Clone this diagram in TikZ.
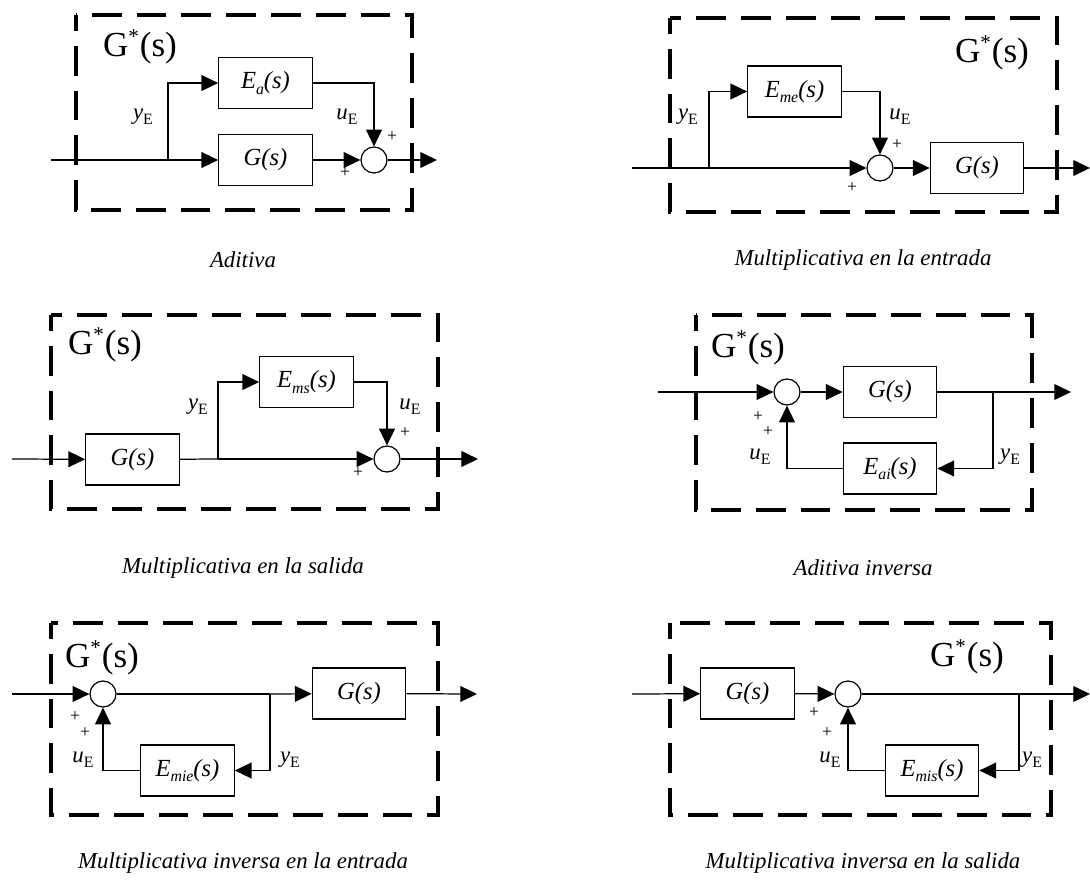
\documentclass[tikz,border=0pt]{standalone}
\usepackage{fontspec}
\setmainfont{Liberation Serif}
\usepackage{tikz}
\usetikzlibrary{arrows.meta}
\newcommand{\sgl}[1]{\textit{#1}\raisebox{-0.45ex}{\fontsize{9}{9}\selectfont E}}
\newcommand{\Eblk}[1]{\textit{E}\raisebox{-0.5ex}{\fontsize{9}{9}\selectfont\textit{#1}}\textit{(s)}}
\newcommand{\Gstar}{G\textsuperscript{\fontsize{12}{12}\selectfont *}(s)}
\tikzset{
  blk/.style={draw=black, line width=0.7pt, minimum width=1.87cm, minimum height=1.02cm, inner sep=0pt, font=\fontsize{14}{16}\selectfont},
  sumc/.style={draw=black, line width=0.7pt, circle, minimum size=0.52cm, inner sep=0pt},
  sarr/.style={-{Triangle[length=9.5pt,width=9pt]}, line width=0.7pt},
  lnk/.style={line width=0.7pt},
  frm/.style={line width=2pt, dash pattern=on 17pt off 8.5pt, dash phase=8pt},
  gstar/.style={font=\fontsize{20}{22}\selectfont, inner sep=0pt},
  lbl/.style={font=\fontsize{13}{15}\selectfont, inner sep=0pt},
  pls/.style={font=\fontsize{10}{11}\selectfont, inner sep=0pt},
  capt/.style={font=\fontsize{13}{15}\selectfont\itshape}
}
\begin{document}
\begin{tikzpicture}[x=0.02cm, y=-0.02cm]
\useasboundingbox (0,0) rectangle (1090,883);
% Aditiva
\draw[frm] (76,15) rectangle (412,210);
\node[gstar] (a-T) at (140,47) {\Gstar};
\coordinate (a-in) at (51,160);
\coordinate (a-br) at (168,160);
\node[blk] (a-E) at (265.5,83) {\Eblk{a}};
\node[blk] (a-G) at (265.5,160) {\textit{G(s)}};
\node[sumc] (a-S) at (374,160) {};
\coordinate (a-out) at (437,160);
\draw[lnk] (a-in) -- (a-br);
\draw[sarr] (a-br) -- (a-G);
\draw[sarr] (a-br) |- (a-E);
\draw[sarr] (a-G) -- (a-S);
\draw[sarr] (a-E) -| (a-S);
\draw[sarr] (a-S) -- (a-out);
\node[lbl] (a-y) at (143,117) {\sgl{y}};
\node[lbl] (a-u) at (347,117) {\sgl{u}};
\node[pls] (a-p1) at (392,137) {+};
\node[pls] (a-p2) at (345,173) {+};
\node[capt] (a-C) at (243,260) {Aditiva};
% Multiplicativa en la entrada
\draw[frm] (670,18) rectangle (1057,212);
\node[gstar] (b-T) at (992,53) {\Gstar};
\coordinate (b-in) at (632,168);
\coordinate (b-br) at (709,168);
\node[blk] (b-E) at (794.5,91.5) {\Eblk{me}};
\node[sumc] (b-S) at (880,168) {};
\node[blk] (b-G) at (977,168) {\textit{G(s)}};
\coordinate (b-out) at (1090,168);
\draw[lnk] (b-in) -- (b-br);
\draw[sarr] (b-br) -- (b-S);
\draw[sarr] (b-br) |- (b-E);
\draw[sarr] (b-E) -| (b-S);
\draw[sarr] (b-S) -- (b-G);
\draw[sarr] (b-G) -- (b-out);
\node[lbl] (b-y) at (688,117) {\sgl{y}};
\node[lbl] (b-u) at (900,117) {\sgl{u}};
\node[pls] (b-p1) at (897,145) {+};
\node[pls] (b-p2) at (852,188) {+};
\node[capt] (b-C) at (863,260) {Multiplicativa en la entrada};
% Multiplicativa en la salida
\draw[frm] (51,315) rectangle (438,509);
\node[gstar] (c-T) at (105,345) {\Gstar};
\coordinate (c-in) at (12,459);
\node[blk] (c-G) at (132.5,459.5) {\textit{G(s)}};
\coordinate (c-br) at (218,459);
\node[blk] (c-E) at (306.5,382) {\Eblk{ms}};
\node[sumc] (c-S) at (387,459) {};
\coordinate (c-out) at (478,459);
\draw[sarr] (c-in) -- (c-G);
\draw[lnk] (c-G) -- (c-br);
\draw[sarr] (c-br) -- (c-S);
\draw[sarr] (c-br) |- (c-E);
\draw[sarr] (c-E) -| (c-S);
\draw[sarr] (c-S) -- (c-out);
\node[lbl] (c-y) at (198,407) {\sgl{y}};
\node[lbl] (c-u) at (410,407) {\sgl{u}};
\node[pls] (c-p1) at (405,433) {+};
\node[pls] (c-p2) at (358,473) {+};
\node[capt] (c-C) at (243,568) {Multiplicativa en la salida};
% Aditiva inversa
\draw[frm] (696,315) rectangle (1032,510);
\node[gstar] (d-T) at (748,348) {\Gstar};
\coordinate (d-in) at (658,392);
\node[sumc] (d-S) at (787,392) {};
\node[blk] (d-G) at (890,392) {\textit{G(s)}};
\coordinate (d-br) at (993,392);
\coordinate (d-out) at (1071,392);
\node[blk] (d-E) at (890,468.5) {\Eblk{ai}};
\draw[sarr] (d-in) -- (d-S);
\draw[sarr] (d-S) -- (d-G);
\draw[lnk] (d-G) -- (d-br);
\draw[sarr] (d-br) -- (d-out);
\draw[sarr] (d-br) |- (d-E);
\draw[sarr] (d-E) -| (d-S);
\node[pls] (d-p1) at (758,417) {+};
\node[pls] (d-p2) at (768,432) {+};
\node[lbl] (d-u) at (760,457) {\sgl{u}};
\node[lbl] (d-y) at (1010,457) {\sgl{y}};
\node[capt] (d-C) at (863,568) {Aditiva inversa};
% Multiplicativa inversa en la entrada
\draw[frm] (51,623) rectangle (438,815);
\node[gstar] (e-T) at (102,658) {\Gstar};
\coordinate (e-in) at (12,694);
\node[sumc] (e-S) at (103,694) {};
\coordinate (e-br) at (270,694);
\node[blk] (e-G) at (359,693.5) {\textit{G(s)}};
\coordinate (e-out) at (477,694);
\node[blk] (e-E) at (187.5,770.5) {\Eblk{mie}};
\draw[sarr] (e-in) -- (e-S);
\draw[lnk] (e-S) -- (e-br);
\draw[sarr] (e-br) -- (e-G);
\draw[sarr] (e-G) -- (e-out);
\draw[sarr] (e-br) |- (e-E);
\draw[sarr] (e-E) -| (e-S);
\node[pls] (e-p1) at (75,717) {+};
\node[pls] (e-p2) at (85,733) {+};
\node[lbl] (e-u) at (83,760) {\sgl{u}};
\node[lbl] (e-y) at (290,760) {\sgl{y}};
\node[capt] (e-C) at (243,863) {Multiplicativa inversa en la entrada};
% Multiplicativa inversa en la salida
\draw[frm] (670,623) rectangle (1051,815);
\node[gstar] (f-T) at (967,657) {\Gstar};
\coordinate (f-in) at (632,694);
\node[blk] (f-G) at (747.5,693.5) {\textit{G(s)}};
\node[sumc] (f-S) at (848,694) {};
\coordinate (f-br) at (1019,694);
\coordinate (f-out) at (1090,694);
\node[blk] (f-E) at (932,770.5) {\Eblk{mis}};
\draw[sarr] (f-in) -- (f-G);
\draw[sarr] (f-G) -- (f-S);
\draw[lnk] (f-S) -- (f-br);
\draw[sarr] (f-br) -- (f-out);
\draw[sarr] (f-br) |- (f-E);
\draw[sarr] (f-E) -| (f-S);
\node[pls] (f-p1) at (814,713) {+};
\node[pls] (f-p2) at (827,733) {+};
\node[lbl] (f-u) at (830,760) {\sgl{u}};
\node[lbl] (f-y) at (1032,760) {\sgl{y}};
\node[capt] (f-C) at (863,863) {Multiplicativa inversa en la salida};
\end{tikzpicture}
\end{document}
